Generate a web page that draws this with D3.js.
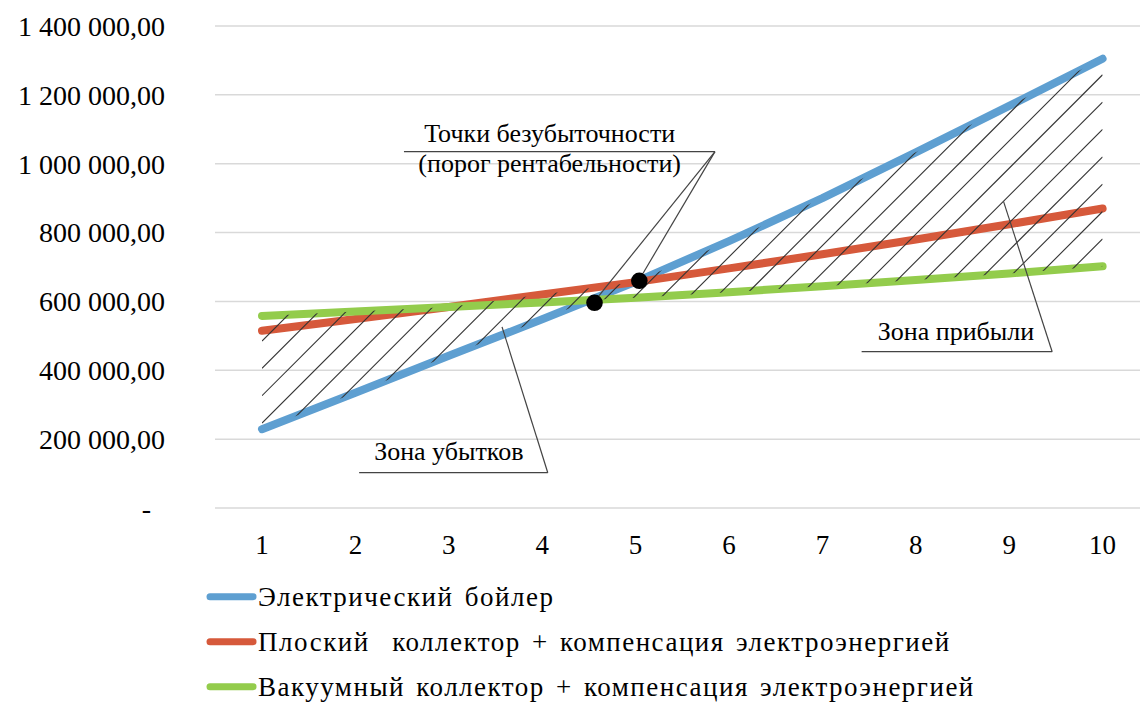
<!DOCTYPE html>
<html>
<head>
<meta charset="utf-8">
<script src="https://cdn.jsdelivr.net/npm/d3@7"></script>
<style>
  body { margin: 0; background: #fff; font-family: "Liberation Serif", "Times New Roman", serif; }
  #wrap { position: relative; width: 1140px; height: 702px; overflow: hidden; }
  #wrap svg { position: absolute; left: 0; top: 0; }
  #fontwarm { position: absolute; left: -9999px; top: 0; font-family: "Liberation Serif"; font-size: 27px; }
  .legend-item { position: absolute; left: 258px; font-family: "Liberation Serif", "Times New Roman", serif; font-size: 27px; line-height: 27px; letter-spacing: 1.5px; word-spacing: 3px; white-space: pre; color: #000; }
</style>
</head>
<body>
<div id="wrap">
  <div id="fontwarm" aria-hidden="true">Зона 0,</div>
  <svg id="breakeven" width="1140" height="702"></svg>
</div>
<script>

// Years on the x axis
var years = [1, 2, 3, 4, 5, 6, 7, 8, 9, 10];

// Cumulative costs per variant
var electricBoiler  = [229000, 335000, 442000, 548000, 657000, 775000, 900000, 1033000, 1168000, 1305000];
var flatCollector   = [515000, 549000, 584000, 620000, 656000, 696000, 737000, 780000, 824000, 870000];
var vacuumCollector = [558000, 571000, 584000, 597000, 611000, 627000, 644000, 662000, 681000, 702000];

var seriesNames = [
  "Электрический бойлер",
  "Плоский  коллектор + компенсация электроэнергией",
  "Вакуумный коллектор + компенсация электроэнергией"
];
var seriesColors = ["#5e9fd1", "#d6593b", "#93cc4c"];

// Y axis ticks
var yTicks = [0, 200000, 400000, 600000, 800000, 1000000, 1200000, 1400000];

// Break-even points (year, value) as marked on the chart
var breakEvenX = [4.56, 5.04];
var breakEvenY = [596000, 660000];

// Callouts, in data units: text lines, text anchor, underline span, leader tip
var calloutTexts  = [["Точки безубыточности", "(порог рентабельности)"], ["Зона убытков"], ["Зона прибыли"]];
var calloutTextX  = [4.08, 3.0, 8.43];
var calloutTextY  = [1064000, 139000, 488000];
var calloutLineY  = [1035000, 102500, 454000];
var calloutLineX0 = [2.52, 2.04, 7.42];
var calloutLineX1 = [5.85, 4.06, 9.46];
var calloutTips   = [[[4.60, 614000], [5.08, 682000]], [[3.57, 526000]], [[8.94, 890000]]];

(function(d3) {

  var serif = "Liberation Serif";

  var svg = d3.select("#breakeven");

  var series = [electricBoiler, flatCollector, vacuumCollector];

  // Scales
  var x = d3.scaleLinear()
    .domain([1, 10])
    .range([262, 1102.6])
    ;
  var y = d3.scaleLinear()
    .domain([0, 1400000])
    .range([508, 26])
    ;

  var ruLocale = d3.formatLocale({ decimal: ",", thousands: " ", grouping: [3], currency: ["", ""] });
  var fmt = ruLocale.format(",.2f");

  // Gridlines

  svg.append("g")
    .attr("class", "grid")
    .selectAll("line")
    .data(yTicks)
    .join("line")
    .attr("x1", 215)
    .attr("x2", 1140)
    .attr("y1", function(d){ return y(d); })
    .attr("y2", function(d){ return y(d); })
    .attr("stroke", "#d9d9d9")
    .attr("stroke-width", 1.5)
    ;

  // Y labels

  svg.append("g")
    .selectAll("text")
    .data(yTicks)
    .join("text")
    .attr("x", function(d){ return d === 0 ? 151 : 165; })
    .attr("y", function(d){ return y(d); })
    .attr("dy", "0.35em")
    .attr("text-anchor", "end")
    .attr("font-family", serif)
    .attr("font-size", 28)
    .attr("fill", "#000")
    .text(function(d){ return d === 0 ? "-" : fmt(d); })
    ;

  // X labels

  svg.append("g")
    .selectAll("text")
    .data(years)
    .join("text")
    .attr("x", function(d){ return x(d); })
    .attr("y", 545)
    .attr("dy", "0.35em")
    .attr("text-anchor", "middle")
    .attr("font-family", serif)
    .attr("font-size", 27)
    .attr("fill", "#000")
    .text(function(d){ return d; })
    ;

  // Series lines

  var line = d3.line()
    .x(function(d, i){ return x(years[i]); })
    .y(function(d){ return y(d); })
    ;

  svg.append("g")
    .selectAll("path")
    .data(series)
    .join("path")
    .attr("d", line)
    .attr("fill", "none")
    .attr("stroke", function(d, i){ return seriesColors[i]; })
    .attr("stroke-width", 8)
    .attr("stroke-linecap", "round")
    .attr("stroke-linejoin", "round")
    ;

  // Hatched zone: union of areas between every pair of series

  var pairs = [[0, 1], [0, 2], [1, 2]];
  var area = d3.area()
    .x(function(d){ return x(d.yr); })
    .y0(function(d){ return y(d.a); })
    .y1(function(d){ return y(d.b); })
    ;

  svg.append("clipPath")
    .attr("id", "zone")
    .selectAll("path")
    .data(pairs)
    .join("path")
    .attr("d", function(p){
      return area(years.map(function(yr, i){ return { yr: yr, a: series[p[0]][i], b: series[p[1]][i] }; }));
    })
    ;

  var hatchStep = 27.35,
      x0 = x(1), x1 = x(10),
      hatch = d3.range(-5, 60).map(function(k){ return 603 + hatchStep * k; });

  svg.append("g")
    .attr("clip-path", "url(#zone)")
    .selectAll("line")
    .data(hatch)
    .join("line")
    .attr("x1", x0)
    .attr("y1", function(c){ return c - x0; })
    .attr("x2", x1)
    .attr("y2", function(c){ return c - x1; })
    .attr("stroke", "#333")
    .attr("stroke-width", 1.1)
    ;

  // Callouts

  var callouts = calloutTexts.map(function(t, i){ return i; });

  var cg = svg.append("g")
    .selectAll("g")
    .data(callouts)
    .join("g")
    ;

  cg.append("line")
    .attr("x1", function(i){ return x(calloutLineX0[i]); })
    .attr("x2", function(i){ return x(calloutLineX1[i]); })
    .attr("y1", function(i){ return y(calloutLineY[i]); })
    .attr("y2", function(i){ return y(calloutLineY[i]); })
    .attr("stroke", "#444")
    .attr("stroke-width", 1.2)
    ;

  cg.selectAll("path.leader")
    .data(function(i){ return calloutTips[i].map(function(t){ return { i: i, t: t }; }); })
    .join("path")
    .attr("class", "leader")
    .attr("d", function(d){
      return d3.line()([[x(calloutLineX1[d.i]), y(calloutLineY[d.i])], [x(d.t[0]), y(d.t[1])]]);
    })
    .attr("stroke", "#444")
    .attr("stroke-width", 1.2)
    .attr("fill", "none")
    ;

  cg.append("text")
    .attr("text-anchor", "middle")
    .attr("font-family", serif)
    .attr("font-size", 26)
    .attr("fill", "#000")
    .selectAll("tspan")
    .data(function(i){ return calloutTexts[i].map(function(s, j){ return { i: i, s: s, j: j }; }); })
    .join("tspan")
    .attr("x", function(d){ return x(calloutTextX[d.i]); })
    .attr("y", function(d){ return y(calloutTextY[d.i]) + d.j * 30; })
    .text(function(d){ return d.s; })
    ;

  // Break-even dots

  svg.append("g")
    .selectAll("circle")
    .data(breakEvenX)
    .join("circle")
    .attr("cx", function(d){ return x(d); })
    .attr("cy", function(d, i){ return y(breakEvenY[i]); })
    .attr("r", 8.3)
    .attr("fill", "#000")
    ;

  // Legend: swatches in the svg, labels as html

  var rowBaseline = function(i){ return 606.7 + i * 45; };

  svg.append("g")
    .selectAll("line")
    .data(seriesNames)
    .join("line")
    .attr("x1", 210)
    .attr("x2", 253)
    .attr("y1", function(d, i){ return rowBaseline(i) - 10; })
    .attr("y2", function(d, i){ return rowBaseline(i) - 10; })
    .attr("stroke", function(d, i){ return seriesColors[i]; })
    .attr("stroke-width", 7)
    .attr("stroke-linecap", "round")
    ;

  d3.select("#wrap")
    .selectAll("div.legend-item")
    .data(seriesNames)
    .join("div")
    .attr("class", "legend-item")
    .style("top", function(d, i){ return (rowBaseline(i) - 22.6) + "px"; })
    .text(function(d){ return d; })
    ;

})(d3);
</script>
</body>
</html>
